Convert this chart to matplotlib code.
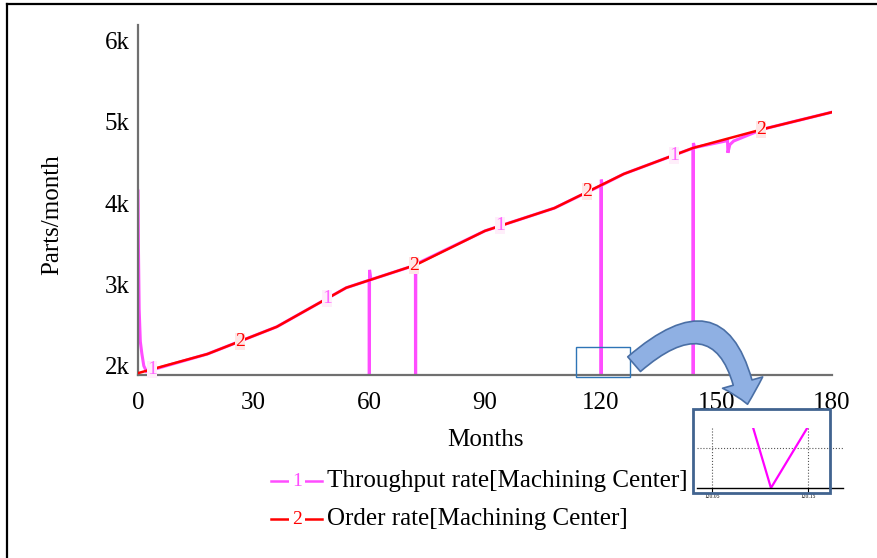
import matplotlib
matplotlib.use("Agg")
import matplotlib.pyplot as plt
import matplotlib.patches as mpatches
from matplotlib.lines import Line2D
import numpy as np

# Order rate [Machining Center], parts/month
order_t = [0, 18, 36, 54, 72, 90, 108, 126, 144, 162, 180]
order_v = [1910, 2145, 2480, 2960, 3240, 3660, 3940, 4360, 4680, 4910, 5120]

# Throughput rate [Machining Center]: follows the order rate, with start-up
# transient and drops to zero at the capacity changes
thr_t = [0, 0.1, 0.3, 0.6, 1.0, 1.5, 2.2, 18, 36, 54,
         59.95, 60.0, 60.05, 60.4, 71.95, 72.0, 72.05, 90, 108,
         120.085, 120.111, 120.165, 120.4, 126, 143.95, 144.0, 144.05, 144.4,
         152.9, 153.0, 153.5, 154.5, 162, 180]
thr_v = [4150, 3500, 2700, 2300, 2150, 2000, 1930, 2145, 2480, 2960,
         3053, 0, 3180, 3060, 3238, 0, 3250, 3660, 3940,
         4218, 0, 4290, 4225, 4360, 4678, 0, 4740, 4685,
         4770, 4620, 4720, 4765, 4910, 5120]

x_ticks = [0, 30, 60, 90, 120, 150, 180]
y_ticks = [2000, 3000, 4000, 5000, 6000]
y_labels = ["2k", "3k", "4k", "5k", "6k"]
series_names = ["Throughput rate[Machining Center]", "Order rate[Machining Center]"]

MAGENTA = "#ff4dff"
RED = "#ff0000"
W, H = 877, 558

plt.rcParams["font.family"] = ["Liberation Serif", "DejaVu Serif"]

fig = plt.figure(figsize=(W / 100, H / 100), dpi=100)


# pixel helpers (origin top-left like the picture)
def fx(px):
    return px / W


def fy(py):
    return 1 - py / H


ax = fig.add_axes([fx(138), fy(375), (832 - 138) / W, (375 - 25) / H])
ax.plot(thr_t, thr_v, color=MAGENTA, lw=2.2, solid_joinstyle="miter", zorder=2)
ax.plot(order_t, order_v, color=RED, lw=1.8, zorder=3)

# the little number markers along the lines
for t in [26.5, 71.5, 116.5, 161.5]:
    ax.text(t, np.interp(t, order_t, order_v), "2", color=RED, fontsize=14,
            ha="center", va="center", zorder=5,
            bbox=dict(boxstyle="square,pad=0.0", fc="#ffe6e6", ec="none"))
for t in [3.6, 49, 94, 139]:
    ax.text(t, np.interp(t, order_t, order_v), "1", color="#ff66ff", fontsize=14,
            ha="center", va="center", zorder=5,
            bbox=dict(boxstyle="square,pad=0.0", fc="#ffeefa", ec="none"))

ax.set_xlim(0, 180)
ax.set_ylim(1887, 6192)
ax.set_xticks(x_ticks)
ax.set_yticks(y_ticks)
ax.set_yticklabels(y_labels)
ax.tick_params(length=0, labelsize=18)
ax.tick_params(axis="x", pad=12)
ax.tick_params(axis="y", pad=6)
for s in ["top", "right"]:
    ax.spines[s].set_visible(False)
for s in ["left", "bottom"]:
    ax.spines[s].set_color("#707070")
    ax.spines[s].set_linewidth(1.6)
ax.set_xlabel("Months", fontsize=18)
ax.xaxis.set_label_coords(0.5, -(429 - 375) / 350)
ax.set_ylabel("Parts/month", fontsize=18)
ax.yaxis.set_label_coords(-(138 - 63) / 694, (375 - 215) / 350)

# highlight box around the drop at month 120
fig.add_artist(mpatches.Rectangle((fx(576), fy(377)), (630 - 576) / W, (377 - 347) / H,
                                  transform=fig.transFigure, fill=False,
                                  ec="#2e75b6", lw=1.0, zorder=6))

# curved arrow to the zoomed view
arrow = mpatches.FancyArrowPatch((fx(632), fy(366)), (fx(748), fy(407)),
                                 transform=fig.transFigure,
                                 connectionstyle="arc3,rad=-0.9",
                                 arrowstyle=mpatches.ArrowStyle.Simple(head_length=0.8, head_width=1.5, tail_width=0.7),
                                 mutation_scale=20, fc="#8fb0e3", ec="#4a6fa5", lw=1.2, zorder=7)
fig.add_artist(arrow)

# zoomed inset
ax_in = fig.add_axes([fx(697), fy(488), (843 - 697) / W, (488 - 428) / H])
ax_in.plot(thr_t, thr_v, color="#ff00ff", lw=1.6)
ax_in.set_xlim(120.034, 120.186)
ax_in.set_ylim(0, 3000)
ax_in.set_xticks([120.05, 120.15])
ax_in.set_xticklabels(["120.05", "120.15"])
ax_in.set_yticks([2000])
ax_in.tick_params(axis="x", length=3, labelsize=4, pad=1)
ax_in.tick_params(axis="y", length=0, labelleft=False)
ax_in.grid(True, ls=":", color="#555555", lw=0.8)
for s in ["top", "right", "left"]:
    ax_in.spines[s].set_visible(False)
ax_in.spines["bottom"].set_linewidth(1.0)
fig.add_artist(mpatches.Rectangle((fx(693), fy(493)), (830 - 693) / W, (493 - 409) / H,
                                  transform=fig.transFigure, fill=False,
                                  ec="#41638f", lw=2.0, zorder=8))

# legend drawn by hand (line - number - line)
for name, col, num, py in [(series_names[0], MAGENTA, "1", 481), (series_names[1], RED, "2", 519)]:
    fig.add_artist(Line2D([fx(271), fx(322)], [fy(py), fy(py)], color=col, lw=1.8,
                          transform=fig.transFigure))
    fig.text(fx(297), fy(py), num, color=col, fontsize=14, ha="center", va="center",
             bbox=dict(boxstyle="square,pad=0.15", fc="white", ec="none"))
    fig.text(fx(327), fy(py), name, fontsize=18, ha="left", va="center")

# frame of the cropped picture: top and left edges
fig.add_artist(Line2D([fx(7), 1], [fy(4), fy(4)], color="black", lw=1.6, transform=fig.transFigure))
fig.add_artist(Line2D([fx(7), fx(7)], [fy(4), 0], color="black", lw=1.6, transform=fig.transFigure))

fig.savefig("out.png", dpi=100)
